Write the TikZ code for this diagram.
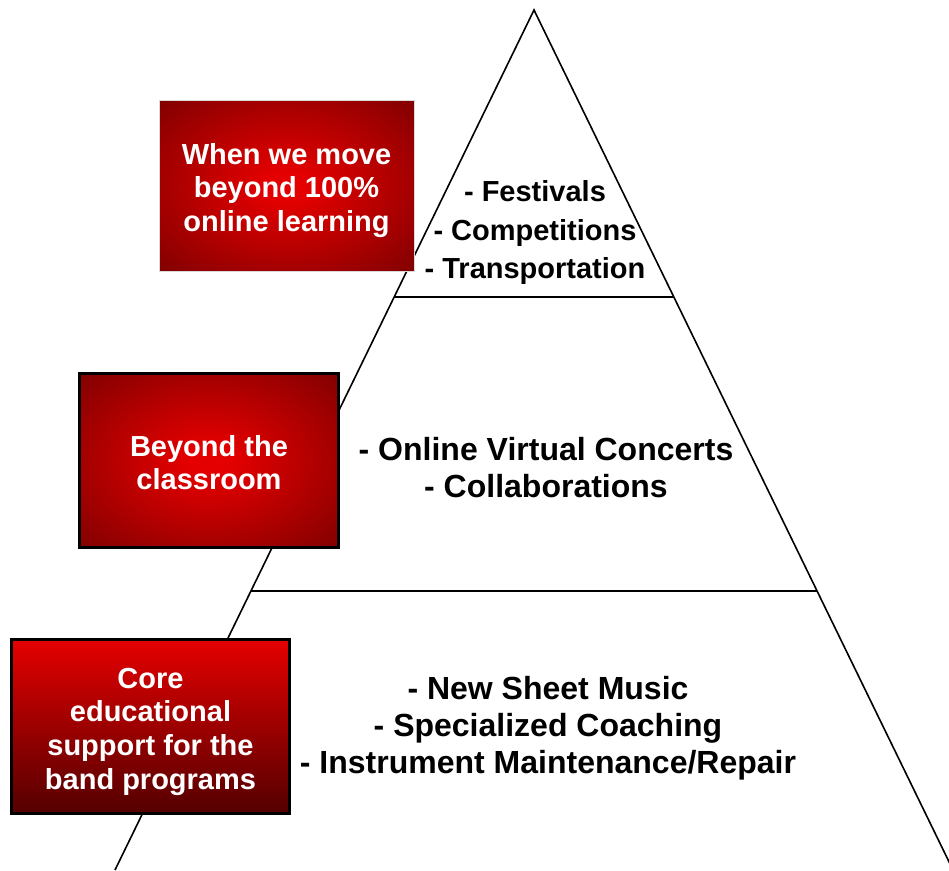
\documentclass[tikz,border=0pt]{standalone}
\usepackage{fontspec}
\setmainfont{Liberation Sans}
\usetikzlibrary{positioning,calc}

\definecolor{boxred}{RGB}{228,0,0}
\definecolor{boxdark}{RGB}{84,0,0}
\pgfdeclareradialshading{boxglow}{\pgfpoint{0bp}{0bp}}{color(0bp)=(boxred); color(4bp)=(boxred); color(50bp)=(boxdark)}

\begin{document}
\begin{tikzpicture}[x=1pt,y=-1pt,
    glowbox/.style={rectangle,shading=boxglow,text=white,align=center,
        font=\bfseries\fontsize{29}{33.5}\selectfont,inner sep=0pt},
    fadebox/.style={rectangle,top color=boxred,bottom color=boxdark,text=white,align=center,
        font=\bfseries\fontsize{29}{33.7}\selectfont,inner sep=0pt},
    tiertext/.style={align=center,font=\bfseries\fontsize{32}{36.5}\selectfont,inner sep=0pt}]
    \useasboundingbox (0,0) rectangle (949,870);

    % Draw pyramid
    \coordinate (apex) at (534,10);
    \coordinate (bl) at (115,870);
    \coordinate (br) at (953,870);
    \coordinate (t1l) at ($(apex)!0.3337!(bl)$);
    \coordinate (t1r) at ($(apex)!0.3337!(br)$);
    \coordinate (t2l) at ($(apex)!0.6756!(bl)$);
    \coordinate (t2r) at ($(apex)!0.6756!(br)$);
    \begin{scope}
        \clip (0,0) rectangle (949,870);
        \draw[line width=1.6pt] (bl) -- (apex) -- (br);
        \draw[line width=1.4pt] (t1l) -- (t1r);
        \draw[line width=1.4pt] (t2l) -- (t2r);
    \end{scope}

    % Draw tier labels
    \node[tiertext,font=\bfseries\fontsize{29}{38.5}\selectfont] (top) at (535,232.5)
        {- Festivals\\- Competitions\\- Transportation};
    \node[tiertext] (mid) at (546,467.5) {- Online Virtual Concerts\\- Collaborations};
    \node[tiertext,font=\bfseries\fontsize{32}{37}\selectfont] (base) at (548,728.5)
        {- New Sheet Music\\- Specialized Coaching\\- Instrument Maintenance/Repair};

    % Draw side boxes (text pushed down a little with a top gap)
    \node[glowbox,draw=gray!30,line width=0.6pt,minimum width=255pt,minimum height=171pt]
        (online) at (286.5,185.5) {\parbox{250pt}{\centering\vspace*{10pt}When we move\\beyond 100\%\\online learning}};
    \node[glowbox,draw=black,line width=3pt,minimum width=259pt,minimum height=174pt]
        (beyond) at (209,460.5) {\parbox{250pt}{\centering\vspace*{4pt}Beyond the\\classroom}};
    \node[fadebox,draw=black,line width=3pt,minimum width=278pt,minimum height=174pt]
        (core) at (150.5,726.5) {\parbox{270pt}{\centering\vspace*{10pt}Core\\educational\\support for the\\band programs}};
\end{tikzpicture}
\end{document}
